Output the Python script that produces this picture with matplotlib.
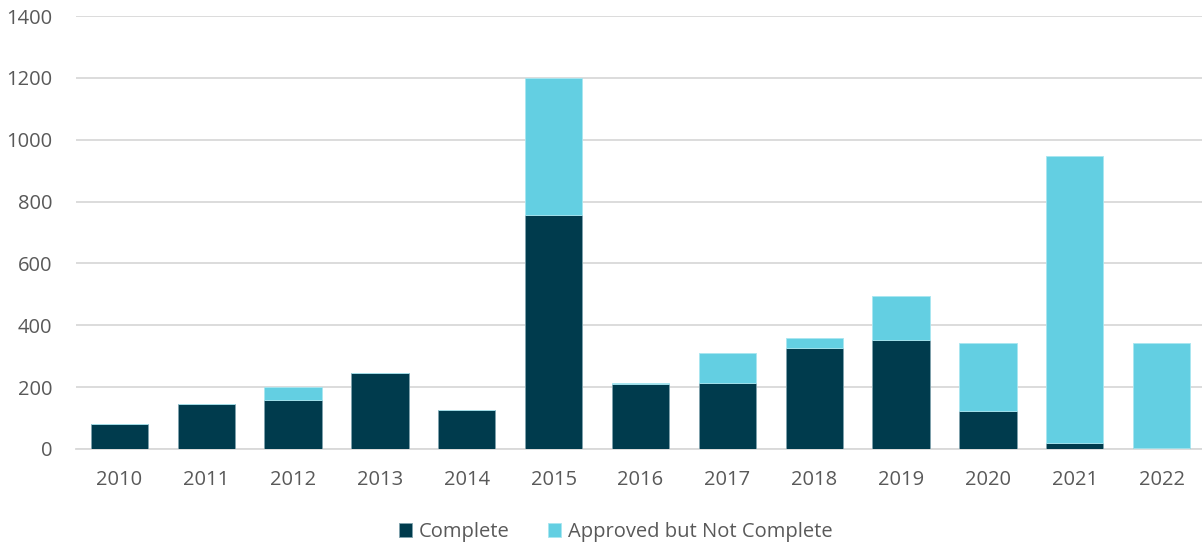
import numpy as np
import matplotlib.pyplot as plt

years = ['2010', '2011', '2012', '2013', '2014', '2015', '2016',
         '2017', '2018', '2019', '2020', '2021', '2022']
complete = [80, 147, 157, 245, 127, 758, 211, 212, 328, 351, 124, 20, 3]
approved = [0, 0, 43, 0, 0, 440, 4, 100, 30, 143, 220, 928, 339]

dark = '#003B4D'
light = '#63CFE2'
text_color = '#595959'

plt.rcParams['font.family'] = ['Open Sans', 'DejaVu Sans']

fig = plt.figure(figsize=(12.02, 5.48), dpi=100)
ax = fig.add_axes([76 / 1202, 1 - 449 / 548, 1129 / 1202, 433 / 548])

x = np.arange(len(years))
ax.bar(x, complete, width=0.66, color=dark, edgecolor='#7FA3AE', linewidth=0.6,
       label='Complete', zorder=3)
ax.bar(x, approved, width=0.66, bottom=complete, color=light, edgecolor='#A8E6F0',
       linewidth=0.6, label='Approved but Not Complete', zorder=3)

ax.set_xlim(-0.5, len(years) - 0.5)
ax.set_ylim(0, 1400)
ax.set_yticks(range(0, 1401, 200))
ax.set_xticks(x)
ax.set_xticklabels(years)
ax.yaxis.grid(True, color='#D9D9D9', linewidth=1.3, zorder=0)
for s in ['top', 'right', 'left']:
    ax.spines[s].set_visible(False)
ax.spines['bottom'].set_color('#D9D9D9')
ax.spines['bottom'].set_linewidth(1.3)
ax.tick_params(axis='both', length=0, labelsize=14.5, labelcolor=text_color)
ax.tick_params(axis='y', pad=17)
ax.tick_params(axis='x', pad=15)

leg = fig.legend(loc='center', bbox_to_anchor=(616 / 1202, 1 - 532 / 548), ncol=2,
                 frameon=False, fontsize=14.5, handlelength=0.65, handleheight=0.65,
                 handletextpad=0.35, columnspacing=1.9)
for t in leg.get_texts():
    t.set_color(text_color)

fig.savefig('out.png', dpi=100)
